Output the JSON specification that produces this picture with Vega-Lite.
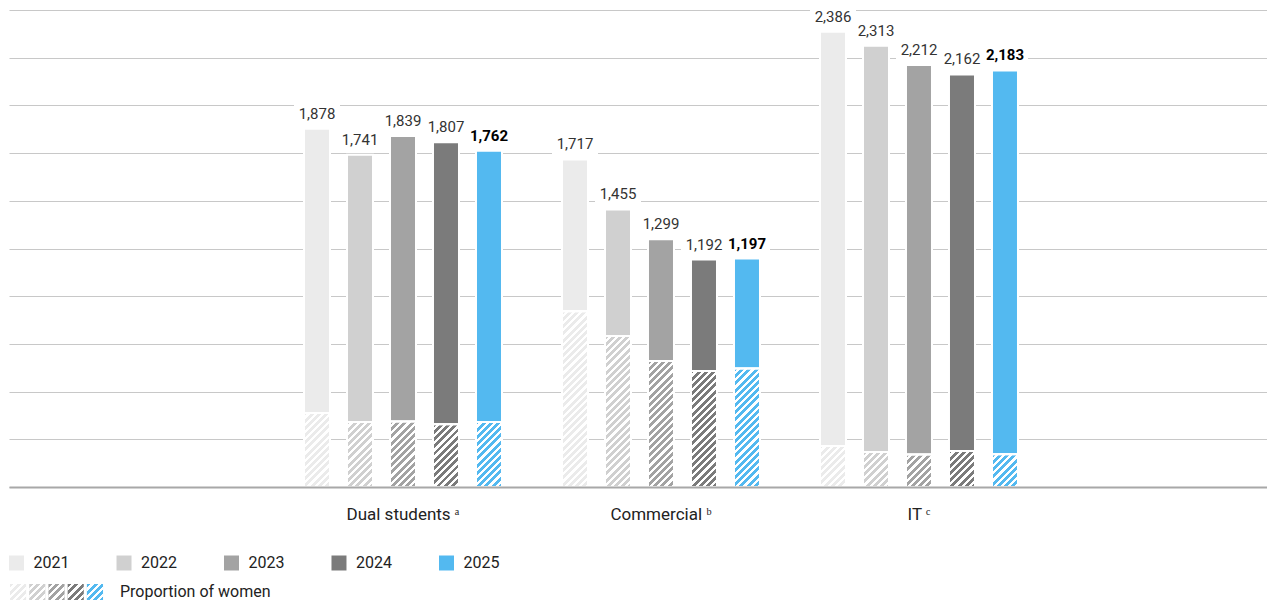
{
  "$schema": "https://vega.github.io/schema/vega-lite/v6.json",
  "padding": {"left": 9, "top": 5, "right": 0, "bottom": 0},
  "background": "white",
  "spacing": 28,
  "config": {"font": "Roboto", "view": {"stroke": null}},
  "params": [
    {"name": "stripeStops", "value": [
      {"offset": 0, "color": "transparent"}, {"offset": 0.01964, "color": "transparent"}, {"offset": 0.01964, "color": "#fff"}, {"offset": 0.03571, "color": "#fff"},
      {"offset": 0.03571, "color": "transparent"}, {"offset": 0.05536, "color": "transparent"}, {"offset": 0.05536, "color": "#fff"}, {"offset": 0.07143, "color": "#fff"},
      {"offset": 0.07143, "color": "transparent"}, {"offset": 0.09107, "color": "transparent"}, {"offset": 0.09107, "color": "#fff"}, {"offset": 0.10714, "color": "#fff"},
      {"offset": 0.10714, "color": "transparent"}, {"offset": 0.12679, "color": "transparent"}, {"offset": 0.12679, "color": "#fff"}, {"offset": 0.14286, "color": "#fff"},
      {"offset": 0.14286, "color": "transparent"}, {"offset": 0.1625, "color": "transparent"}, {"offset": 0.1625, "color": "#fff"}, {"offset": 0.17857, "color": "#fff"},
      {"offset": 0.17857, "color": "transparent"}, {"offset": 0.19821, "color": "transparent"}, {"offset": 0.19821, "color": "#fff"}, {"offset": 0.21429, "color": "#fff"},
      {"offset": 0.21429, "color": "transparent"}, {"offset": 0.23393, "color": "transparent"}, {"offset": 0.23393, "color": "#fff"}, {"offset": 0.25, "color": "#fff"},
      {"offset": 0.25, "color": "transparent"}, {"offset": 0.26964, "color": "transparent"}, {"offset": 0.26964, "color": "#fff"}, {"offset": 0.28571, "color": "#fff"},
      {"offset": 0.28571, "color": "transparent"}, {"offset": 0.30536, "color": "transparent"}, {"offset": 0.30536, "color": "#fff"}, {"offset": 0.32143, "color": "#fff"},
      {"offset": 0.32143, "color": "transparent"}, {"offset": 0.34107, "color": "transparent"}, {"offset": 0.34107, "color": "#fff"}, {"offset": 0.35714, "color": "#fff"},
      {"offset": 0.35714, "color": "transparent"}, {"offset": 0.37679, "color": "transparent"}, {"offset": 0.37679, "color": "#fff"}, {"offset": 0.39286, "color": "#fff"},
      {"offset": 0.39286, "color": "transparent"}, {"offset": 0.4125, "color": "transparent"}, {"offset": 0.4125, "color": "#fff"}, {"offset": 0.42857, "color": "#fff"},
      {"offset": 0.42857, "color": "transparent"}, {"offset": 0.44821, "color": "transparent"}, {"offset": 0.44821, "color": "#fff"}, {"offset": 0.46429, "color": "#fff"},
      {"offset": 0.46429, "color": "transparent"}, {"offset": 0.48393, "color": "transparent"}, {"offset": 0.48393, "color": "#fff"}, {"offset": 0.5, "color": "#fff"},
      {"offset": 0.5, "color": "transparent"}, {"offset": 0.51964, "color": "transparent"}, {"offset": 0.51964, "color": "#fff"}, {"offset": 0.53571, "color": "#fff"},
      {"offset": 0.53571, "color": "transparent"}, {"offset": 0.55536, "color": "transparent"}, {"offset": 0.55536, "color": "#fff"}, {"offset": 0.57143, "color": "#fff"},
      {"offset": 0.57143, "color": "transparent"}, {"offset": 0.59107, "color": "transparent"}, {"offset": 0.59107, "color": "#fff"}, {"offset": 0.60714, "color": "#fff"},
      {"offset": 0.60714, "color": "transparent"}, {"offset": 0.62679, "color": "transparent"}, {"offset": 0.62679, "color": "#fff"}, {"offset": 0.64286, "color": "#fff"},
      {"offset": 0.64286, "color": "transparent"}, {"offset": 0.6625, "color": "transparent"}, {"offset": 0.6625, "color": "#fff"}, {"offset": 0.67857, "color": "#fff"},
      {"offset": 0.67857, "color": "transparent"}, {"offset": 0.69821, "color": "transparent"}, {"offset": 0.69821, "color": "#fff"}, {"offset": 0.71429, "color": "#fff"},
      {"offset": 0.71429, "color": "transparent"}, {"offset": 0.73393, "color": "transparent"}, {"offset": 0.73393, "color": "#fff"}, {"offset": 0.75, "color": "#fff"},
      {"offset": 0.75, "color": "transparent"}, {"offset": 0.76964, "color": "transparent"}, {"offset": 0.76964, "color": "#fff"}, {"offset": 0.78571, "color": "#fff"},
      {"offset": 0.78571, "color": "transparent"}, {"offset": 0.80536, "color": "transparent"}, {"offset": 0.80536, "color": "#fff"}, {"offset": 0.82143, "color": "#fff"},
      {"offset": 0.82143, "color": "transparent"}, {"offset": 0.84107, "color": "transparent"}, {"offset": 0.84107, "color": "#fff"}, {"offset": 0.85714, "color": "#fff"},
      {"offset": 0.85714, "color": "transparent"}, {"offset": 0.87679, "color": "transparent"}, {"offset": 0.87679, "color": "#fff"}, {"offset": 0.89286, "color": "#fff"},
      {"offset": 0.89286, "color": "transparent"}, {"offset": 0.9125, "color": "transparent"}, {"offset": 0.9125, "color": "#fff"}, {"offset": 0.92857, "color": "#fff"},
      {"offset": 0.92857, "color": "transparent"}, {"offset": 0.94821, "color": "transparent"}, {"offset": 0.94821, "color": "#fff"}, {"offset": 0.96429, "color": "#fff"},
      {"offset": 0.96429, "color": "transparent"}, {"offset": 0.98393, "color": "transparent"}, {"offset": 0.98393, "color": "#fff"}, {"offset": 1, "color": "#fff"}
    ]}
  ],
  "vconcat": [
    {
      "width": 1258,
      "height": 477,
      "data": {"values": [
        {"group": "Dual students ᵃ", "year": "2021", "total": 1878, "women": 388},
        {"group": "Dual students ᵃ", "year": "2022", "total": 1741, "women": 341},
        {"group": "Dual students ᵃ", "year": "2023", "total": 1839, "women": 343},
        {"group": "Dual students ᵃ", "year": "2024", "total": 1807, "women": 329},
        {"group": "Dual students ᵃ", "year": "2025", "total": 1762, "women": 341},
        {"group": "Commercial ᵇ", "year": "2021", "total": 1717, "women": 921},
        {"group": "Commercial ᵇ", "year": "2022", "total": 1455, "women": 791},
        {"group": "Commercial ᵇ", "year": "2023", "total": 1299, "women": 660},
        {"group": "Commercial ᵇ", "year": "2024", "total": 1192, "women": 608},
        {"group": "Commercial ᵇ", "year": "2025", "total": 1197, "women": 621},
        {"group": "IT ᶜ", "year": "2021", "total": 2386, "women": 215},
        {"group": "IT ᶜ", "year": "2022", "total": 2313, "women": 183},
        {"group": "IT ᶜ", "year": "2023", "total": 2212, "women": 170},
        {"group": "IT ᶜ", "year": "2024", "total": 2162, "women": 189},
        {"group": "IT ᶜ", "year": "2025", "total": 2183, "women": 171}
      ]},
      "encoding": {
        "x": {"field": "group", "type": "nominal", "sort": ["Dual students ᵃ", "Commercial ᵇ", "IT ᶜ"],
          "scale": {"paddingInner": 0, "paddingOuter": 0.938, "align": 0.5475},
          "axis": {"title": null, "labelAngle": 0, "ticks": false, "grid": false, "domainColor": "#a8a8a8", "domainWidth": 2, "labelFontSize": 17, "labelColor": "#222", "labelPadding": 19, "zindex": 1, "minExtent": 40, "maxExtent": 40}},
        "xOffset": {"field": "year", "type": "nominal", "scale": {"paddingInner": 0.3953, "paddingOuter": 0.6977}}
      },
      "layer": [
        {
          "mark": {"type": "bar", "stroke": "white", "strokeWidth": 2},
          "encoding": {
            "y": {"field": "women", "type": "quantitative", "stack": null, "scale": {"domain": [0, 2500], "nice": false},
              "axis": {"title": null, "labels": false, "ticks": false, "domain": false, "grid": true, "gridColor": "#c8c8c8", "gridWidth": 1.2, "values": [0, 250, 500, 750, 1000, 1250, 1500, 1750, 2000, 2250, 2500], "minExtent": 0, "maxExtent": 0}},
            "y2": {"field": "total"},
            "color": {"field": "year", "type": "nominal", "scale": {"domain": ["2021", "2022", "2023", "2024", "2025"], "range": ["#ebebeb", "#d0d0d0", "#a3a3a3", "#7b7b7b", "#53b9f0"]}, "legend": null}
          }
        },
        {
          "mark": {"type": "bar", "stroke": "white", "strokeWidth": 2},
          "encoding": {
            "y": {"field": "women", "type": "quantitative", "stack": null},
            "color": {"field": "year", "type": "nominal", "legend": null}
          }
        },
        {
          "mark": {"type": "bar", "stroke": "white", "strokeWidth": 2,
            "fill": {"expr": "{gradient: 'linear', x1: 0, y1: 0, x2: 5241.6 / (676 + pow(datum.women * 0.1908, 2)), y2: 201.6 * datum.women * 0.1908 / (676 + pow(datum.women * 0.1908, 2)), stops: stripeStops}"}},
          "encoding": {
            "y": {"field": "women", "type": "quantitative", "stack": null}
          }
        },
        {
          "mark": {"type": "bar", "fill": "white", "width": 46, "yOffset": -2, "y2Offset": -26},
          "encoding": {
            "y": {"field": "total", "type": "quantitative", "stack": null},
            "y2": {"field": "total"}
          }
        },
        {
          "transform": [{"filter": "datum.year != '2025'"}],
          "mark": {"type": "text", "baseline": "alphabetic", "dy": -10, "fontSize": 15, "color": "#333"},
          "encoding": {
            "y": {"field": "total", "type": "quantitative", "stack": null},
            "text": {"field": "total", "type": "quantitative", "format": ","}
          }
        },
        {
          "transform": [{"filter": "datum.year == '2025'"}],
          "mark": {"type": "text", "baseline": "alphabetic", "dy": -10, "fontSize": 15, "fontWeight": "bold", "color": "#000"},
          "encoding": {
            "y": {"field": "total", "type": "quantitative", "stack": null},
            "text": {"field": "total", "type": "quantitative", "format": ","}
          }
        }
      ]
    },
    {
      "spacing": 13,
      "vconcat": [
        {
          "width": 445,
          "height": 16,
          "data": {"values": [{"year": "2021"}, {"year": "2022"}, {"year": "2023"}, {"year": "2024"}, {"year": "2025"}]},
          "encoding": {
            "x": {"field": "year", "type": "ordinal", "scale": {"type": "point", "padding": 0.07}, "axis": null}
          },
          "layer": [
            {
              "mark": {"type": "square", "size": 225, "opacity": 1},
              "encoding": {"color": {"field": "year", "type": "nominal", "scale": {"domain": ["2021", "2022", "2023", "2024", "2025"], "range": ["#ebebeb", "#d0d0d0", "#a3a3a3", "#7b7b7b", "#53b9f0"]}, "legend": null}}
            },
            {
              "mark": {"type": "text", "align": "left", "dx": 17, "fontSize": 16, "color": "#222"},
              "encoding": {"text": {"field": "year"}}
            }
          ]
        },
        {
          "width": 95,
          "height": 16,
          "data": {"values": [{"year": "2021"}, {"year": "2022"}, {"year": "2023"}, {"year": "2024"}, {"year": "2025"}]},
          "encoding": {
            "x": {"field": "year", "type": "ordinal", "scale": {"paddingInner": 0.16, "paddingOuter": 0.05}, "axis": null}
          },
          "layer": [
            {
              "mark": {"type": "bar"},
              "encoding": {"color": {"field": "year", "type": "nominal", "scale": {"domain": ["2021", "2022", "2023", "2024", "2025"], "range": ["#ebebeb", "#d0d0d0", "#a3a3a3", "#7b7b7b", "#53b9f0"]}, "legend": null}}
            },
            {
              "mark": {"type": "bar", "fill": {"expr": "{gradient: 'linear', x1: 0, y1: 0, x2: 6.3, y2: 6.3, stops: stripeStops}"}}
            },
            {
              "data": {"values": [{"label": "Proportion of women"}]},
              "mark": {"type": "text", "align": "left", "dx": 25, "fontSize": 16, "color": "#222"},
              "encoding": {
                "x": {"datum": "2025", "type": "ordinal"},
                "text": {"field": "label"}
              }
            }
          ]
        }
      ]
    }
  ]
}
